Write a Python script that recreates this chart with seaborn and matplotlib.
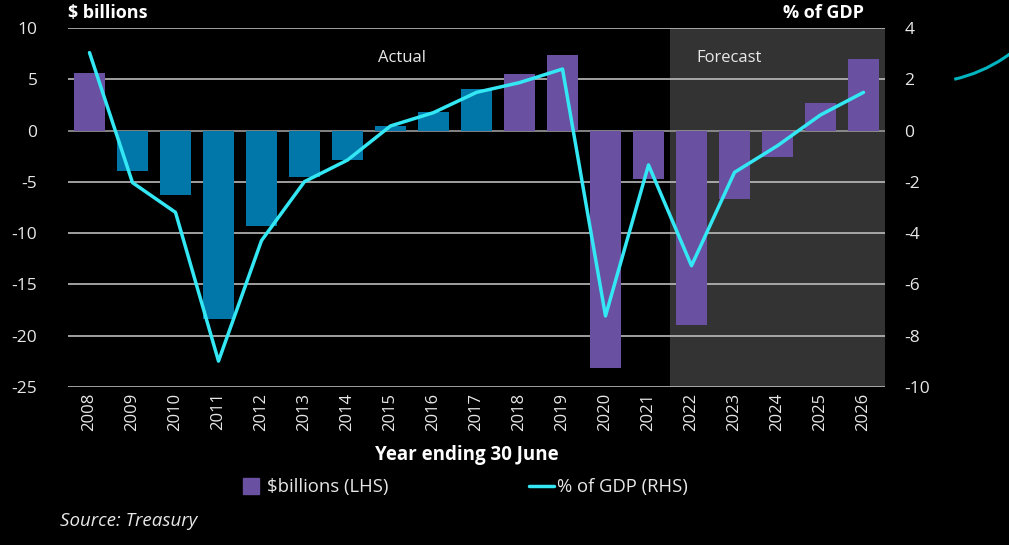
import numpy as np
import pandas as pd
import matplotlib
matplotlib.use("Agg")
import matplotlib.pyplot as plt
import seaborn as sns
from matplotlib.patches import Arc
from matplotlib.lines import Line2D

years = [str(y) for y in range(2008, 2027)]
billions = [5.6, -3.9, -6.3, -18.4, -9.3, -4.5, -2.9, 0.45, 1.85, 4.05,
            5.5, 7.4, -23.1, -4.7, -19.0, -6.7, -2.6, 2.7, 7.0]
pct_gdp = [3.04, -2.03, -3.19, -8.99, -4.29, -1.99, -1.15, 0.18, 0.70, 1.49,
           1.87, 2.40, -7.23, -1.34, -5.27, -1.63, -0.59, 0.61, 1.49]
group = ["purple", "teal", "teal", "teal", "teal", "teal", "teal", "teal", "teal", "teal",
         "purple", "purple", "purple", "purple", "purple", "purple", "purple", "purple", "purple"]

PURPLE = "#6950A0"
TEAL = "#0077A8"
CYAN = "#33E8F4"
TXT = "#E8E8E8"

df = pd.DataFrame({"year": years, "billions": billions, "pct": pct_gdp, "group": group,
                   "pos": np.arange(len(years))})

sns.set_theme(style="dark")
plt.rcParams["font.family"] = ["Open Sans", "DejaVu Sans"]
plt.rcParams["axes.unicode_minus"] = False

fig = plt.figure(figsize=(10.09, 5.45), dpi=100, facecolor="black")
ax = fig.add_axes([68/1009, 1-387/545, (885-68)/1009, (387-28)/545])
ax.set_facecolor("black")

# forecast shading
ax.axvspan(13.5, 18.5, color="#333333", zorder=0, lw=0)

sns.barplot(data=df, x="year", y="billions", hue="group", dodge=False,
            palette={"purple": PURPLE, "teal": TEAL}, width=0.7,
            saturation=1, legend=False, ax=ax, zorder=2, linewidth=0, edgecolor="none")

ax.set_xlim(-0.5, 18.5)
ax.set_ylim(-25, 10)
ax.set_yticks(np.arange(-25, 11, 5))
for yv in np.arange(-25, 11, 5):
    ax.axhline(yv, color="#BBBBBB" if yv != 0 else "#999999", lw=1.2, zorder=1)
ax.grid(False)
for s in ax.spines.values():
    s.set_visible(False)
ax.tick_params(axis="y", colors=TXT, labelsize=12.5, length=0, pad=22)
ax.tick_params(axis="x", colors=TXT, labelsize=12, length=0, rotation=90, pad=4)
ax.set_ylabel("")
ax.set_xlabel("Year ending 30 June", color="white", fontsize=13.5, fontweight="bold")
ax.xaxis.set_label_coords((467-68)/817, (387-445)/359)

ax2 = ax.twinx()
sns.lineplot(data=df, x="pos", y="pct", color=CYAN, lw=2.5, ax=ax2, zorder=3)
ax2.set_ylim(-10, 4)
ax2.set_yticks(np.arange(-10, 5, 2))
ax2.set_xlim(-0.5, 18.5)
ax2.grid(False)
for s in ax2.spines.values():
    s.set_visible(False)
ax2.tick_params(axis="y", colors=TXT, labelsize=12.5, length=0, pad=14)
ax2.set_ylabel("")
ax2.set_xlabel("")

ax.text(7.27, 7.1, "Actual", color=TXT, fontsize=12, ha="center", va="center")
ax.text(14.87, 7.1, "Forecast", color=TXT, fontsize=12, ha="center", va="center")

fig.text(68/1009, 1-13/545, "$ billions", color="white", fontsize=13, fontweight="bold",
         ha="left", va="center")
fig.text(864/1009, 1-13/545, "% of GDP", color="white", fontsize=13, fontweight="bold",
         ha="right", va="center")

handles = [Line2D([0], [0], marker="s", ls="none", markersize=11, color=PURPLE),
           Line2D([0], [0], color=CYAN, lw=2.5)]
leg = fig.legend(handles, ["$billions (LHS)", "% of GDP (RHS)"], loc="center",
                 bbox_to_anchor=(463/1009, 1-487/545), ncol=2, frameon=False,
                 fontsize=13.3, labelcolor=TXT, columnspacing=7.6, handlelength=1.4,
                 handletextpad=0.15)
fig.text(60/1009, 1-521/545, "Source: Treasury", color=TXT, fontsize=13.5,
         style="italic", ha="left", va="center")

# decorative arc at top right
arc = Arc((921/1009, 1+67/545), 300/1009, 300/545, theta1=277, theta2=307,
          transform=fig.transFigure, color="#00B5C0", lw=2.2, clip_on=False)
fig.add_artist(arc)

fig.savefig("out.png", dpi=100, facecolor="black")
